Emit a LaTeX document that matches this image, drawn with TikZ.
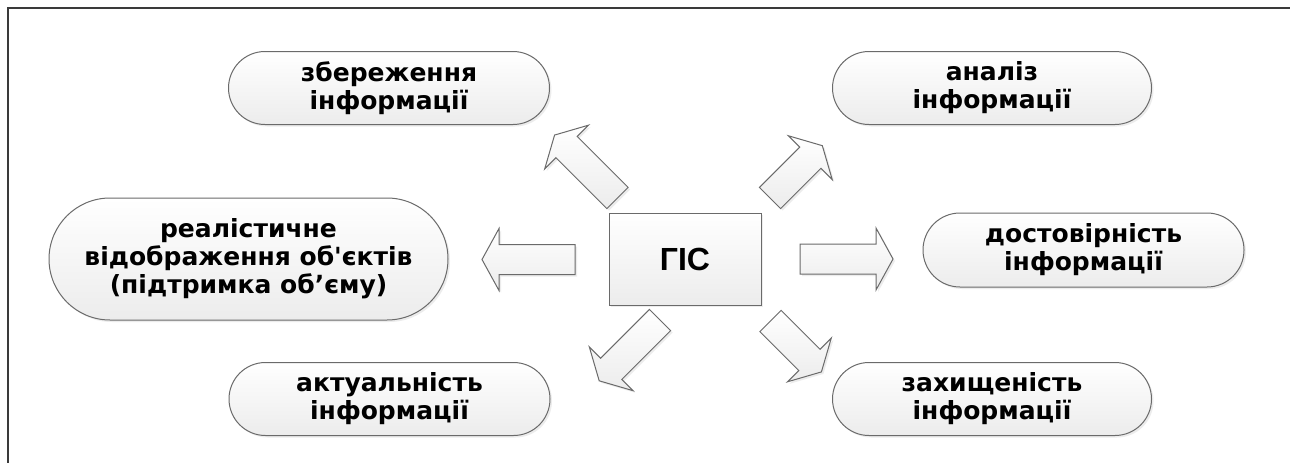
\documentclass[tikz,border=0pt]{standalone}
\usepackage{fontspec}
\setmainfont{DejaVu Sans}
\newfontfamily\gisfont{Liberation Sans}
\usetikzlibrary{shapes.misc,shadows}
\definecolor{edgec}{HTML}{6A6A6A}
\definecolor{fillbot}{HTML}{ECECEC}
\definecolor{framec}{HTML}{3A3A3A}
\tikzset{
  softshadow/.style={drop shadow={opacity=0.15, shadow xshift=2pt, shadow yshift=-2pt}},
  pill/.style={rounded rectangle, draw=edgec, line width=1pt, top color=white, bottom color=fillbot,
    softshadow, align=center, inner sep=0pt, text=black,
    font=\fontsize{25}{28}\selectfont\bfseries},
  gisbox/.style={rectangle, draw=edgec, line width=1pt, top color=white, bottom color=fillbot,
    softshadow, inner sep=0pt, font=\gisfont\fontsize{32}{36}\selectfont\bfseries},
  arrowbody/.style={draw=edgec, line width=1pt, line join=miter, top color=white, bottom color=fillbot, softshadow},
  pics/blockarrow/.style={code={
    \path[arrowbody] (0,-15) -- ({#1-17},-15) -- ({#1-17},-31) -- (#1,0) -- ({#1-17},31) -- ({#1-17},15) -- (0,15) -- cycle;
  }}
}
\begin{document}
\begin{tikzpicture}[x=1pt,y=-1pt]
\useasboundingbox (0,0) rectangle (1290,463);
\fill[white] (0,0) rectangle (1290,463);
\draw[framec, line width=1.5pt] (8,463) -- (8,8) -- (1290,8);

\node[pill, minimum width=321pt, minimum height=73pt] (store) at (389,88) {збереження\\інформації};
\node[pill, minimum width=319pt, minimum height=73pt] (analysis) at (992,88) {аналіз\\інформації};
\node[pill, minimum width=399pt, minimum height=122pt] (real) at (248.5,259) {реалістичне\\відображення об\textquotesingle єктів\\(підтримка об’єму)};
\node[pill, minimum width=321pt, minimum height=74pt] (reliab) at (1083.5,250) {достовірність\\інформації};
\node[pill, minimum width=321pt, minimum height=73pt] (actual) at (389.5,399) {актуальність\\інформації};
\node[pill, minimum width=319pt, minimum height=73pt] (protect) at (992,399) {захищеність\\інформації};
\node[gisbox, minimum width=152pt, minimum height=92pt] (gis) at (685,259) {ГІС};

\coordinate (tUL) at (617.5,198);
\coordinate (tUR) at (770,198);
\coordinate (tLL) at (660,320);
\coordinate (tLR) at (770.5,321);
\coordinate (tL) at (575,259.5);
\coordinate (tR) at (800,259);
\pic[rotate=135] (aUL) at (tUL) {blockarrow=89};
\pic[rotate=45] (aUR) at (tUR) {blockarrow=74};
\pic[rotate=225] (aLL) at (tLL) {blockarrow=86};
\pic[rotate=-45] (aLR) at (tLR) {blockarrow=72};
\pic[rotate=180] (aL) at (tL) {blockarrow=93};
\pic (aR) at (tR) {blockarrow=93};
\end{tikzpicture}
\end{document}
